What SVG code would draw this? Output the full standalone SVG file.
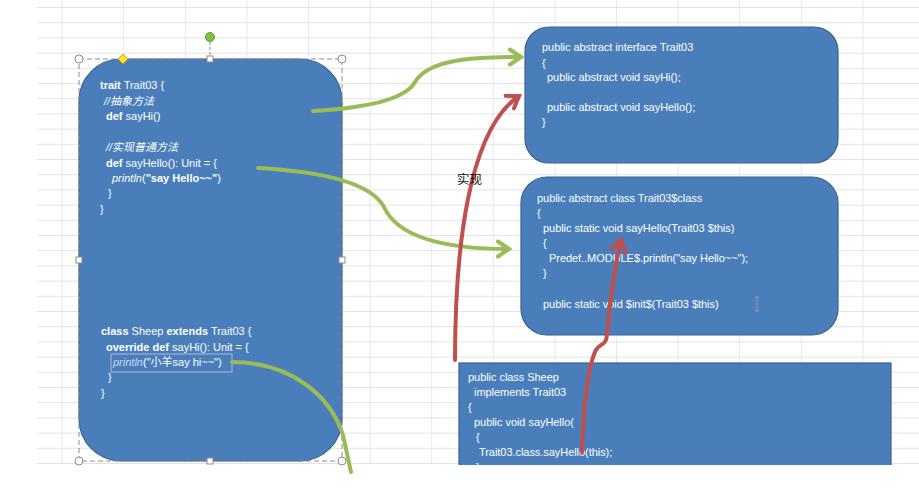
<svg xmlns="http://www.w3.org/2000/svg" width="919" height="491" viewBox="0 0 919 491">
<style>
.t{fill:#fff;font-family:"Liberation Sans","Noto Sans CJK SC",sans-serif;font-size:11px}
.r{fill:#fff;font-family:"Liberation Sans",sans-serif;font-size:11px;letter-spacing:-0.05px}
.b{font-weight:bold}
.i{font-style:italic}
.box{fill:#4a7ebb;stroke:#3a6191;stroke-width:1.2}
.g{fill:none;stroke:#9bbb59;stroke-width:4;stroke-linecap:round}
.rd{fill:none;stroke:#c0504d;stroke-width:4;stroke-linecap:round}
.h{fill:#fff;stroke:#8c8c8c;stroke-width:1}
</style>
<defs>
<pattern id="grid" patternUnits="userSpaceOnUse" x="0" y="7" width="61.6" height="15.2">
<path d="M0,0H61.6M0,0V15.2" stroke="#d9d9d9" stroke-width="1.2" fill="none"/>
</pattern>
<marker id="ag" markerUnits="userSpaceOnUse" viewBox="0 0 20 20" refX="14" refY="10" markerWidth="20" markerHeight="20" orient="auto">
<path d="M3,2.5 L14,10 L3,17.5" fill="none" stroke="#9bbb59" stroke-width="4" stroke-linejoin="miter" stroke-linecap="round"/>
</marker>
<marker id="ar" markerUnits="userSpaceOnUse" viewBox="0 0 20 20" refX="14" refY="10" markerWidth="20" markerHeight="20" orient="auto">
<path d="M3,2.5 L14,10 L3,17.5" fill="none" stroke="#c0504d" stroke-width="4" stroke-linejoin="miter" stroke-linecap="round"/>
</marker>
<clipPath id="sheetclip"><rect x="0" y="0" width="919" height="465"/></clipPath>
</defs>
<rect width="919" height="491" fill="#fff"/>
<rect x="37" y="0" width="882" height="464" fill="url(#grid)"/>

<g id="trait-node">
<rect class="box" x="79" y="59" width="263" height="402" rx="42" ry="42"/>
<rect x="79" y="59" width="263" height="402" fill="none" stroke="#8c8c8c" stroke-width="1" stroke-dasharray="5,3"/>
<line x1="210" y1="37" x2="210" y2="59" stroke="#8c8c8c" stroke-width="1" stroke-dasharray="3,2"/>
<circle cx="210" cy="37" r="4.5" fill="#7cc243" stroke="#5a9a2a"/>
<circle class="h" cx="79" cy="59" r="4"/>
<circle class="h" cx="342" cy="59" r="4"/>
<circle class="h" cx="79" cy="461" r="4"/>
<circle class="h" cx="342" cy="461" r="4"/>
<rect class="h" x="207" y="56" width="6" height="6"/>
<rect class="h" x="76" y="257" width="6" height="6"/>
<rect class="h" x="339" y="257" width="6" height="6"/>
<rect class="h" x="207" y="458" width="6" height="6"/>
<path d="M123,54 L128,59 L123,64 L118,59 Z" fill="#ffe135" stroke="#b8a000" stroke-width="0.8"/>
<text class="t" x="100" y="89"><tspan class="b">trait</tspan> Trait03 {</text>
<text class="t i" x="104" y="105">//抽象方法</text>
<text class="t" x="106" y="120"><tspan class="b">def</tspan> sayHi()</text>
<text class="t i" x="106" y="151">//实现普通方法</text>
<text class="t" x="106" y="167"><tspan class="b">def</tspan> sayHello(): Unit = {</text>
<text class="t" x="112" y="182"><tspan class="i">println</tspan>(<tspan class="b">"say Hello~~"</tspan>)</text>
<text class="t" x="108" y="197">}</text>
<text class="t" x="100" y="213">}</text>
<text class="t" x="101" y="335"><tspan class="b">class</tspan> Sheep <tspan class="b">extends</tspan> Trait03 {</text>
<text class="t" x="106" y="351"><tspan class="b">override def</tspan> sayHi(): Unit = {</text>
<rect x="111" y="354" width="121" height="18" fill="none" stroke="#a9bcd6" stroke-width="1"/>
<text class="t" x="113" y="366"><tspan class="i" fill="#c8d6ea">println</tspan>("小羊say hi~~")</text>
<text class="t" x="108" y="381">}</text>
<text class="t" x="101" y="397">}</text>
</g>

<g id="interface-node">
<rect class="box" x="525" y="27" width="313" height="136" rx="24" ry="24"/>
<text class="r" x="542" y="51">public abstract interface Trait03</text>
<text class="r" x="542" y="67">{</text>
<text class="r" x="547" y="81">public abstract void sayHi();</text>
<text class="r" x="547" y="111">public abstract void sayHello();</text>
<text class="r" x="542" y="126">}</text>
</g>

<g id="class-node">
<rect class="box" x="521" y="177" width="317" height="158" rx="26" ry="26"/>
<text class="r" x="537" y="202">public abstract class Trait03$class</text>
<text class="r" x="537" y="217">{</text>
<text class="r" x="543" y="232">public static void sayHello(Trait03 $this)</text>
<text class="r" x="543" y="247">{</text>
<text class="r" x="549" y="262">Predef..MODULE$.println("say Hello~~");</text>
<text class="r" x="543" y="277">}</text>
<text class="r" x="543" y="308">public static void $init$(Trait03 $this)</text>
<path d="M755,297 H759 M757,297 V311 M755,311 H759" stroke="#9a9a9a" stroke-width="1" fill="none"/>
</g>

<g id="sheep-node" clip-path="url(#sheetclip)">
<rect class="box" x="459" y="363" width="432" height="110"/>
<text class="r" x="468" y="381">public class Sheep</text>
<text class="r" x="474" y="396">implements Trait03</text>
<text class="r" x="468" y="411">{</text>
<text class="r" x="474" y="426">public void sayHello(</text>
<text class="r" x="476" y="441">{</text>
<text class="r" x="479" y="456">Trait03.class.sayHello(this);</text>
<text class="r" x="476" y="471">}</text>
</g>

<g id="connectors">
<path class="g" d="M313,111 C365,108 405,100 415,82 C428,60 470,57 521,57" marker-end="url(#ag)"/>
<path class="g" d="M258,168 C330,172 372,185 384,207 C398,238 445,249 509,249" marker-end="url(#ag)"/>
<path class="g" d="M232,362 C290,362 330,395 343,435 L351,472"/>
<path class="rd" d="M455,360 C455,250 468,130 519,96" marker-end="url(#ar)"/>
<path class="rd" d="M582,452 C583,410 588,365 596,350 C600,343 606,346 607,335 C610,300 615,265 621,240" marker-end="url(#ar)"/>
<text x="457" y="184" font-family="Liberation Sans,Noto Sans CJK SC,sans-serif" font-size="12.5" fill="#111">实现</text>
</g>
</svg>
